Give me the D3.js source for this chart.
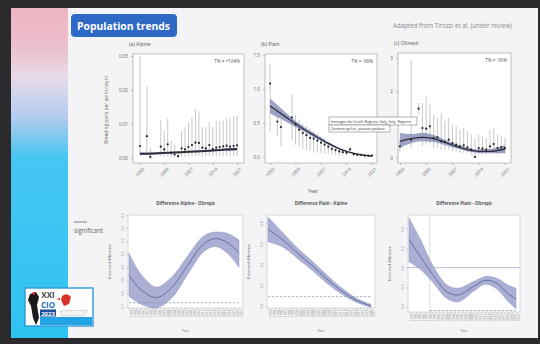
<!DOCTYPE html>
<html>
<head>
<meta charset="utf-8">
<script src="https://cdn.jsdelivr.net/npm/d3@7"></script>
<style>
  body { margin: 0; background: #2b2b2d; }
  svg { display: block; font-family: "Open Sans", "DejaVu Sans", sans-serif; }
</style>
</head>
<body>
<svg id="chart" width="540" height="344"></svg>
<script>
// ---- data ----
const years = [1993,1994,1995,1996,1997,1998,1999,2000,2001,2002,2003,2004,2005,2006,2007,
               2008,2009,2010,2011,2012,2013,2014,2015,2016,2017,2018,2019,2020,2021];
const yearTicks = [1993, 2000, 2007, 2014, 2021];

// (a) Alpine
const alpineMean = [0.0035,null,0.0064,0.0003,null,null,0.0033,0.0025,0.0040,0.0015,0.0010,0.0005,0.0028,0.0025,0.0032,
                    0.0038,0.0045,0.0044,0.0030,0.0028,0.0038,0.0026,0.0030,0.0032,0.0034,0.0036,0.0033,0.0035,0.0037];
const alpineLo   = [0.0005,null,0.0010,0.0000,null,null,0.0004,0.0003,0.0005,0.0002,0.0001,0.0000,0.0004,0.0003,0.0004,
                    0.0005,0.0006,0.0006,0.0004,0.0004,0.0005,0.0004,0.0005,0.0005,0.0005,0.0006,0.0005,0.0006,0.0006];
const alpineHi   = [0.0300,null,0.0210,0.0030,null,null,0.0110,0.0080,0.0115,0.0050,0.0040,0.0020,0.0080,0.0090,0.0105,
                    0.0120,0.0143,0.0138,0.0090,0.0090,0.0105,0.0090,0.0108,0.0110,0.0110,0.0118,0.0118,0.0122,0.0125];
const alpineTrendYears = [1993, 1997, 2001, 2005, 2009, 2013, 2017, 2021];
const alpineTrend      = [0.0012, 0.0013, 0.0015, 0.0017, 0.0019, 0.0021, 0.0024, 0.0026];
const alpineTrendLo    = [0.0008, 0.0010, 0.0013, 0.0015, 0.0017, 0.0019, 0.0021, 0.0022];
const alpineTrendHi    = [0.0016, 0.0016, 0.0017, 0.0019, 0.0021, 0.0023, 0.0027, 0.0030];

// (b) Plain
const plainMean = [1.08,null,0.52,0.44,null,null,0.58,0.48,0.40,0.35,0.32,0.28,0.27,0.24,0.21,
                   0.18,0.15,0.12,0.10,0.08,0.07,0.06,0.11,0.04,0.03,0.03,0.02,0.02,0.02];
const plainLo   = [0.38,null,0.30,0.15,null,null,0.25,0.18,0.15,0.12,0.10,0.08,0.07,0.06,0.05,
                   0.05,0.04,0.03,0.03,0.02,0.02,0.02,0.06,0.01,0.01,0.01,0.01,0.01,0.01];
const plainHi   = [1.37,null,0.60,0.55,null,null,0.93,0.62,0.55,0.50,0.46,0.42,0.38,0.34,0.30,
                   0.27,0.22,0.18,0.15,0.13,0.11,0.09,0.15,0.06,0.05,0.05,0.04,0.04,0.04];
const plainTrendYears = [1993, 1997, 2001, 2005, 2009, 2013, 2017, 2021];
const plainTrend      = [0.75, 0.60, 0.45, 0.32, 0.20, 0.10, 0.04, 0.01];
const plainTrendLo    = [0.64, 0.53, 0.41, 0.29, 0.18, 0.09, 0.03, 0.00];
const plainTrendHi    = [0.86, 0.67, 0.49, 0.35, 0.22, 0.11, 0.05, 0.02];

// (c) Oltrepò
const oltrepoMean = [0.35,null,null,0.55,null,1.48,0.90,0.88,0.95,0.60,0.62,0.50,0.48,0.55,0.45,
                     0.40,0.35,0.38,0.32,0.25,0.03,0.30,0.28,0.25,0.35,0.42,0.30,0.32,0.30];
const oltrepoLo   = [0.20,null,null,0.30,null,1.30,0.35,0.40,0.45,0.30,0.30,0.25,0.25,0.25,0.20,
                     0.20,0.15,0.15,0.15,0.10,0.00,0.10,0.10,0.10,0.15,0.20,0.12,0.12,0.12];
const oltrepoHi   = [0.55,null,null,2.95,null,1.65,1.65,1.85,1.60,1.30,1.20,1.35,1.10,1.20,1.00,
                     0.95,0.85,0.90,0.80,0.70,0.60,0.70,0.65,0.60,0.85,0.90,0.70,0.65,0.60];
const oltrepoTrendYears = [1993, 1996, 1999, 2002, 2005, 2008, 2011, 2014, 2017, 2021];
const oltrepoTrend      = [0.50, 0.58, 0.62, 0.58, 0.47, 0.35, 0.25, 0.20, 0.20, 0.27];
const oltrepoTrendLo    = [0.30, 0.44, 0.50, 0.48, 0.39, 0.29, 0.20, 0.15, 0.14, 0.15];
const oltrepoTrendHi    = [0.75, 0.72, 0.76, 0.69, 0.55, 0.41, 0.31, 0.26, 0.27, 0.40];

// differences
const diffAOYears = [1993, 1996, 2000, 2004, 2008, 2012, 2015, 2018, 2021];
const diffAO      = [-0.46, -0.57, -0.63, -0.55, -0.38, -0.22, -0.18, -0.21, -0.29];
const diffAOLo    = [-0.62, -0.68, -0.71, -0.63, -0.45, -0.28, -0.24, -0.29, -0.40];
const diffAOHi    = [-0.29, -0.45, -0.55, -0.47, -0.31, -0.16, -0.13, -0.14, -0.19];
const diffAOTicks = [0.0, -0.1, -0.2, -0.3, -0.4, -0.5, -0.6, -0.7];

const diffPAYears = [1993, 1997, 2001, 2005, 2009, 2013, 2017, 2021];
const diffPA      = [0.74, 0.64, 0.51, 0.39, 0.26, 0.145, 0.055, 0.0];
const diffPALo    = [0.62, 0.57, 0.46, 0.345, 0.22, 0.115, 0.035, -0.015];
const diffPAHi    = [0.86, 0.71, 0.56, 0.435, 0.30, 0.175, 0.075, 0.015];
const diffPATicks = [0.0, 0.2, 0.4, 0.6, 0.8];

const diffPOYears = [1993, 1996, 1999, 2003, 2006, 2010, 2013, 2016, 2019, 2021];
const diffPO      = [0.29, 0.11, -0.06, -0.25, -0.28, -0.19, -0.13, -0.16, -0.27, -0.32];
const diffPOLo    = [0.06, -0.02, -0.14, -0.32, -0.35, -0.24, -0.17, -0.22, -0.35, -0.42];
const diffPOHi    = [0.51, 0.29, 0.04, -0.18, -0.21, -0.14, -0.09, -0.11, -0.18, -0.21];
const diffPOTicks = [0.4, 0.2, 0.0, -0.2, -0.4];

const svg = d3.select("#chart");

// ---- slide background ----
const defs = svg.append("defs");
const grad = defs.append("linearGradient").attr("id", "strip")
  .attr("x1", 0).attr("y1", 0).attr("x2", 0).attr("y2", 1);
[["0%", "#efb4c2"], ["12%", "#ecbfcd"], ["21%", "#e8dcea"], ["33%", "#b4cbee"],
 ["45%", "#47c6f2"], ["100%", "#2ec3f3"]].forEach(s =>
  grad.append("stop").attr("offset", s[0]).attr("stop-color", s[1]));

svg.append("rect").attr("width", 540).attr("height", 344).attr("fill", "#2b2b2d");
svg.append("rect").attr("x", 11).attr("y", 8).attr("width", 527).attr("height", 330).attr("fill", "#f4f4f6");
svg.append("rect").attr("x", 11).attr("y", 8).attr("width", 57).attr("height", 330).attr("fill", "url(#strip)");

svg.append("rect").attr("x", 71).attr("y", 14).attr("width", 106).attr("height", 23).attr("rx", 4)
  .attr("fill", "#2f69c6");
svg.append("text").attr("x", 77).attr("y", 29.5).attr("fill", "#fff")
  .attr("font-size", 10.5).attr("font-weight", "bold")
  .attr("textLength", 93).attr("lengthAdjust", "spacingAndGlyphs").text("Population trends");
svg.append("text").attr("x", 512).attr("y", 28).attr("text-anchor", "end").attr("fill", "#8a8a8a")
  .attr("font-size", 6.2).text("Adapted from Tirozzi et al. (under review)");

// ---- top panels ----
function topPanel(box, cfg) {
  const g = svg.append("g");
  const x = d3.scaleLinear().domain(cfg.xDomain).range([box.x0, box.x1]);
  const y = d3.scaleLinear().domain(cfg.yDomain).range([box.y1, box.y0]);

  g.append("text").attr("x", box.x0 - 4).attr("y", box.y0 - 8).attr("font-size", 5)
    .attr("fill", "#555").text(cfg.title);
  g.append("rect").attr("x", box.x0).attr("y", box.y0)
    .attr("width", box.x1 - box.x0).attr("height", box.y1 - box.y0)
    .attr("fill", "#fff").attr("stroke", "#9a9a9a").attr("stroke-width", 0.6);

  const ax = g.append("g").attr("transform", `translate(0,${box.y1})`)
    .call(d3.axisBottom(x).tickValues(yearTicks).tickSize(2).tickFormat(d3.format("d")));
  ax.selectAll("text").attr("transform", "rotate(-45)").attr("text-anchor", "end")
    .attr("dx", "-0.3em").attr("dy", "0.6em");
  const ay = g.append("g").attr("transform", `translate(${box.x0},0)`)
    .call(d3.axisLeft(y).tickValues(cfg.yTicks).tickSize(2).tickFormat(d3.format(cfg.fmt)));
  [ax, ay].forEach(a => {
    a.select(".domain").remove();
    a.selectAll("line").attr("stroke", "#888").attr("stroke-width", 0.5);
    a.selectAll("text").attr("font-size", 4.6).attr("fill", "#666").attr("font-family", "Open Sans, sans-serif");
  });

  // error bars
  years.forEach((yr, i) => {
    if (cfg.mean[i] === null) return;
    g.append("line").attr("x1", x(yr)).attr("x2", x(yr))
      .attr("y1", y(cfg.lo[i])).attr("y2", y(cfg.hi[i]))
      .attr("stroke", "#a2a2a6").attr("stroke-width", 0.6);
  });

  const band = d3.area().curve(d3.curveMonotoneX)
    .x((d, i) => x(cfg.tYears[i])).y0((d, i) => y(cfg.tLo[i])).y1((d, i) => y(cfg.tHi[i]));
  g.append("path").datum(cfg.trend).attr("d", band).attr("fill", "#7c84b0").attr("opacity", 0.75);
  const line = d3.line().curve(d3.curveMonotoneX)
    .x((d, i) => x(cfg.tYears[i])).y(d => y(d));
  g.append("path").datum(cfg.trend).attr("d", line).attr("fill", "none")
    .attr("stroke", "#2d2f3f").attr("stroke-width", cfg.lw);

  years.forEach((yr, i) => {
    if (cfg.mean[i] === null) return;
    g.append("circle").attr("cx", x(yr)).attr("cy", y(cfg.mean[i])).attr("r", 1.1).attr("fill", "#222");
  });

  g.append("text").attr("x", box.x1 - 4).attr("y", box.y0 + 9).attr("text-anchor", "end")
    .attr("font-size", 4.6).attr("fill", "#555").text(cfg.change);
}

topPanel({ x0: 133, x1: 244, y0: 54, y1: 163 }, {
  title: "(a) Alpine", xDomain: [1991, 2023], yDomain: [-0.0015, 0.0306],
  yTicks: [0, 0.01, 0.02, 0.03], fmt: ".2f",
  mean: alpineMean, lo: alpineLo, hi: alpineHi,
  tYears: alpineTrendYears, trend: alpineTrend, tLo: alpineTrendLo, tHi: alpineTrendHi,
  lw: 2, change: "T% = +164%"
});
topPanel({ x0: 265, x1: 377, y0: 54, y1: 163 }, {
  title: "(b) Plain", xDomain: [1991.6, 2022.4], yDomain: [-0.09, 1.515],
  yTicks: [0, 0.5, 1.0, 1.5], fmt: ".1f",
  mean: plainMean, lo: plainLo, hi: plainHi,
  tYears: plainTrendYears, trend: plainTrend, tLo: plainTrendLo, tHi: plainTrendHi,
  lw: 1.3, change: "T% = -88%"
});
topPanel({ x0: 398, x1: 511, y0: 53, y1: 163 }, {
  title: "(c) Oltrepò", xDomain: [1992.5, 2022.6], yDomain: [-0.15, 3.15],
  yTicks: [0, 2, 3], fmt: "d",
  mean: oltrepoMean, lo: oltrepoLo, hi: oltrepoHi,
  tYears: oltrepoTrendYears, trend: oltrepoTrend, tLo: oltrepoTrendLo, tHi: oltrepoTrendHi,
  lw: 1.3, change: "T% = -36%"
});

svg.append("text").attr("transform", "translate(108,110) rotate(-90)").attr("text-anchor", "middle")
  .attr("font-size", 4.8).attr("fill", "#555").text("Breeding pairs per point count");
svg.append("text").attr("x", 313).attr("y", 193).attr("text-anchor", "middle")
  .attr("font-size", 4.8).attr("fill", "#555").text("Year");

// browser tooltip captured in the photo
const tip = svg.append("g");
tip.append("rect").attr("x", 329).attr("y", 117).attr("width", 88).attr("height", 8)
  .attr("fill", "#fff").attr("stroke", "#666").attr("stroke-width", 0.5);
tip.append("rect").attr("x", 329).attr("y", 125).attr("width", 61).attr("height", 7)
  .attr("fill", "#fff").attr("stroke", "#666").attr("stroke-width", 0.5);
tip.append("text").attr("x", 331).attr("y", 122.8).attr("font-size", 3.6).attr("fill", "#333")
  .text("Immagini da Uccelli Regione, Italy, Italy, Regione");
tip.append("text").attr("x", 331).attr("y", 130.2).attr("font-size", 3.6).attr("fill", "#333")
  .text("Germani golosi, pianura padana");

// ---- bottom panels ----
function diffPanel(box, cfg) {
  const g = svg.append("g");
  const x = d3.scaleLinear().domain([1993, 2021]).range([box.x0 + 1, box.x1 - 4]);
  const y = d3.scaleLinear().domain(cfg.yDomain).range([box.y1, box.y0]);

  g.append("text").attr("x", (box.x0 + box.x1) / 2).attr("y", 205).attr("text-anchor", "middle")
    .attr("font-size", 4.4).attr("font-weight", "bold").attr("fill", "#555").text(cfg.title);
  g.append("rect").attr("x", box.x0).attr("y", box.y0)
    .attr("width", box.x1 - box.x0).attr("height", box.y1 - box.y0)
    .attr("fill", "#fff").attr("stroke", "#c4c4c8").attr("stroke-width", 0.6);

  const ax = g.append("g").attr("transform", `translate(0,${box.y1})`)
    .call(d3.axisBottom(x).tickValues(years).tickSize(1.5).tickFormat(d3.format("d")));
  ax.selectAll("text").attr("transform", "rotate(-90)").attr("text-anchor", "end")
    .attr("dx", "-0.5em").attr("dy", "-0.25em");
  const ay = g.append("g").attr("transform", `translate(${box.x0},0)`)
    .call(d3.axisLeft(y).tickValues(cfg.yTicks).tickSize(1.5).tickFormat(d3.format(".1f")));
  ay.selectAll("text").attr("transform", "rotate(-90)").attr("text-anchor", "middle")
    .attr("x", 0).attr("dy", 0).attr("y", -4);
  [ax, ay].forEach(a => {
    a.select(".domain").remove();
    a.selectAll("line").attr("stroke", "#999").attr("stroke-width", 0.4);
    a.selectAll("text").attr("font-size", 3.2).attr("fill", "#888").attr("font-family", "Open Sans, sans-serif");
  });

  if (cfg.zero) {
    g.append("line").attr("x1", box.x0).attr("x2", box.x1).attr("y1", y(0)).attr("y2", y(0))
      .attr("stroke", "#8a8fb0").attr("stroke-width", 0.6);
    g.append("line").attr("x1", x(cfg.sigStart)).attr("x2", x(cfg.sigStart))
      .attr("y1", box.y0).attr("y2", box.y1).attr("stroke", "#b8bccc").attr("stroke-width", 0.5);
  }

  const band = d3.area().curve(d3.curveCatmullRom)
    .x((d, i) => x(cfg.years[i])).y0((d, i) => y(cfg.lo[i])).y1((d, i) => y(cfg.hi[i]));
  g.append("path").datum(cfg.mean).attr("d", band).attr("fill", "#a2a7cf").attr("opacity", 0.9)
    .attr("stroke", "#7c82b4").attr("stroke-width", 0.4);
  const line = d3.line().curve(d3.curveCatmullRom).x((d, i) => x(cfg.years[i])).y(d => y(d));
  g.append("path").datum(cfg.mean).attr("d", line).attr("fill", "none")
    .attr("stroke", "#565e96").attr("stroke-width", 0.8);

  // significance bar
  g.append("line").attr("x1", x(cfg.sigStart)).attr("x2", x(2021))
    .attr("y1", y(cfg.sigLevel)).attr("y2", y(cfg.sigLevel))
    .attr("stroke", "#8d92b2").attr("stroke-width", 0.7).attr("stroke-dasharray", "2.5,1.5");

  g.append("text").attr("transform", `translate(${box.x0 - 17},${(box.y0 + box.y1) / 2}) rotate(-90)`)
    .attr("text-anchor", "middle").attr("font-size", 3.6).attr("fill", "#666").text("Estimated difference");
  g.append("text").attr("x", (box.x0 + box.x1) / 2).attr("y", 332).attr("text-anchor", "middle")
    .attr("font-size", 3.4).attr("fill", "#777").text("Year");
}

diffPanel({ x0: 128, x1: 243, y0: 215, y1: 308 }, {
  title: "Difference Alpine - Oltrepò", yDomain: [-0.71, 0.0], yTicks: diffAOTicks,
  years: diffAOYears, mean: diffAO, lo: diffAOLo, hi: diffAOHi, sigStart: 1993, sigLevel: -0.67
});
diffPanel({ x0: 267, x1: 375, y0: 215, y1: 308 }, {
  title: "Difference Plain - Alpine", yDomain: [-0.02, 0.88], yTicks: diffPATicks,
  years: diffPAYears, mean: diffPA, lo: diffPALo, hi: diffPAHi, sigStart: 1993, sigLevel: 0.09
});
diffPanel({ x0: 408, x1: 520, y0: 215, y1: 312 }, {
  title: "Difference Plain - Oltrepò", yDomain: [-0.455, 0.54], yTicks: diffPOTicks,
  years: diffPOYears, mean: diffPO, lo: diffPOLo, hi: diffPOHi, sigStart: 1998.4, sigLevel: -0.44,
  zero: true
});

// legend
svg.append("line").attr("x1", 74).attr("x2", 87).attr("y1", 222).attr("y2", 222)
  .attr("stroke", "#666").attr("stroke-width", 0.8);
svg.append("text").attr("x", 74).attr("y", 233).attr("font-size", 6.2).attr("fill", "#666").text("significant");

// conference logo
const logo = svg.append("g");
logo.append("rect").attr("x", 25).attr("y", 288).attr("width", 68).attr("height", 38)
  .attr("fill", "#fff").attr("stroke", "#2b9ad8").attr("stroke-width", 1.4);
logo.append("path").attr("d", "M30,294 L36,292 L39,297 L37,305 L39,318 L36,325 L33,318 L31,306 L28,300 Z")
  .attr("fill", "#1a1a1a");
logo.append("circle").attr("cx", 34).attr("cy", 293.5).attr("r", 1.4).attr("fill", "#d22");
logo.append("text").attr("x", 48).attr("y", 298).attr("text-anchor", "middle").attr("font-size", 8)
  .attr("font-weight", "bold").attr("fill", "#444").text("XXI");
logo.append("text").attr("x", 48).attr("y", 308).attr("text-anchor", "middle").attr("font-size", 8)
  .attr("font-weight", "bold").attr("fill", "#2a6fc0").text("CIO");
logo.append("rect").attr("x", 40).attr("y", 309.5).attr("width", 16).attr("height", 7).attr("fill", "#1d4f9a");
logo.append("text").attr("x", 48).attr("y", 315.5).attr("text-anchor", "middle").attr("font-size", 6)
  .attr("font-weight", "bold").attr("fill", "#fff").text("2023");
logo.append("rect").attr("x", 40).attr("y", 317).attr("width", 52).attr("height", 8).attr("fill", "#22a3e6");
logo.append("path").attr("d", "M60,311 L88,310 L84,316 L62,316 Z").attr("fill", "#f2f2f2")
  .attr("stroke", "#aaa").attr("stroke-width", 0.4);
logo.append("path").attr("d", "M62,296 Q67,292 71,297 L69,304 L64,306 L61,300 Z").attr("fill", "#d8322a");
logo.append("path").attr("d", "M60,298 L56,299 L60,300 Z").attr("fill", "#d8322a");
</script>
</body>
</html>
